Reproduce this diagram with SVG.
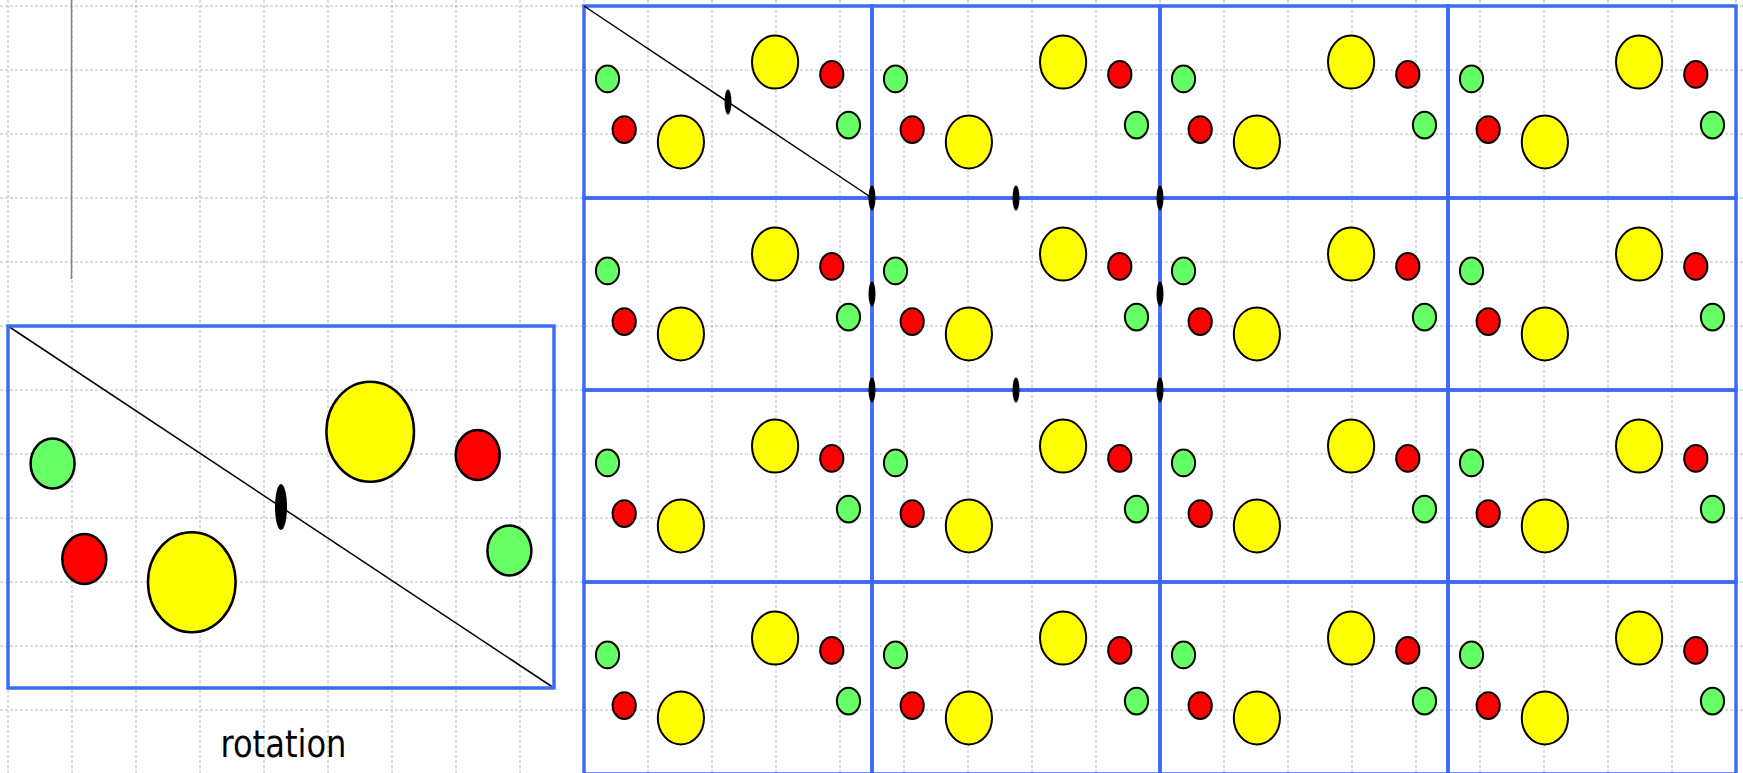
<svg xmlns="http://www.w3.org/2000/svg" xmlns:xlink="http://www.w3.org/1999/xlink" width="1743" height="773" viewBox="0 0 1743 773">
<style>
.grid{stroke:#b8b8b8;stroke-width:1;stroke-dasharray:3 2;fill:none}
.frame{fill:none;stroke:#3d6bf6;stroke-width:3.5}
.g{fill:#66ff66;stroke:#000}
.r{fill:#ff0000;stroke:#000}
.y{fill:#ffff00;stroke:#000}
.axis{fill:#000;stroke:none}
.diag{stroke:#000;stroke-width:1.5;fill:none}
.label{font-family:"DejaVu Sans Condensed","DejaVu Sans",sans-serif;font-stretch:condensed;font-size:37px;fill:#000}
</style>
<defs>
<g id="motif" stroke-width="2">
<ellipse class="g" cx="23.5" cy="72.9" rx="11.6" ry="13.3"/>
<ellipse class="r" cx="40.2" cy="123.6" rx="11.6" ry="13.3"/>
<ellipse class="y" cx="96.9" cy="135.9" rx="23.1" ry="26.5"/>
<ellipse class="y" cx="191.1" cy="56.1" rx="23.1" ry="26.5"/>
<ellipse class="r" cx="247.8" cy="68.4" rx="11.6" ry="13.3"/>
<ellipse class="g" cx="264.5" cy="119.1" rx="11.6" ry="13.3"/>
<rect class="frame" x="0" y="0" width="288" height="192"/>
</g>
</defs>
<rect width="1743" height="773" fill="#fff"/>
<g id="grid">
<path class="grid" d="M8 0V773M72 0V773M136 0V773M200 0V773M264 0V773M328 0V773M392 0V773M456 0V773M520 0V773M584 0V773M648 0V773M712 0V773M776 0V773M840 0V773M904 0V773M968 0V773M1032 0V773M1096 0V773M1160 0V773M1224 0V773M1288 0V773M1352 0V773M1416 0V773M1480 0V773M1544 0V773M1608 0V773M1672 0V773M1736 0V773"/>
<path class="grid" d="M0 6H1743M0 70H1743M0 134H1743M0 198H1743M0 262H1743M0 326H1743M0 390H1743M0 454H1743M0 518H1743M0 582H1743M0 646H1743M0 710H1743"/>
</g>
<g id="axis-line">
<line x1="71.5" y1="0" x2="71.5" y2="279" stroke="#808080" stroke-width="1.5"/>
</g>
<g id="single-cell">
<line class="diag" x1="8" y1="326" x2="554" y2="688"/>
<g stroke-width="2.5">
<ellipse class="g" cx="52.6" cy="463.5" rx="22" ry="25"/>
<ellipse class="r" cx="84.3" cy="559" rx="22" ry="25"/>
<ellipse class="y" cx="191.8" cy="582.3" rx="43.8" ry="50"/>
<ellipse class="y" cx="370.2" cy="431.7" rx="43.8" ry="50"/>
<ellipse class="r" cx="477.7" cy="455" rx="22" ry="25"/>
<ellipse class="g" cx="509.4" cy="550.5" rx="22" ry="25"/>
</g>
<ellipse class="axis" cx="281" cy="507" rx="6" ry="23"/>
<rect class="frame" x="8" y="326" width="546" height="362"/>
</g>
<g id="label-rotation">
<text class="label" x="283.5" y="757" text-anchor="middle" textLength="126" lengthAdjust="spacingAndGlyphs">rotation</text>
</g>
<g id="lattice">
<g id="tile-0-0"><use xlink:href="#motif" href="#motif" x="584" y="6"/></g>
<g id="tile-1-0"><use xlink:href="#motif" href="#motif" x="872" y="6"/></g>
<g id="tile-2-0"><use xlink:href="#motif" href="#motif" x="1160" y="6"/></g>
<g id="tile-3-0"><use xlink:href="#motif" href="#motif" x="1448" y="6"/></g>
<g id="tile-0-1"><use xlink:href="#motif" href="#motif" x="584" y="198"/></g>
<g id="tile-1-1"><use xlink:href="#motif" href="#motif" x="872" y="198"/></g>
<g id="tile-2-1"><use xlink:href="#motif" href="#motif" x="1160" y="198"/></g>
<g id="tile-3-1"><use xlink:href="#motif" href="#motif" x="1448" y="198"/></g>
<g id="tile-0-2"><use xlink:href="#motif" href="#motif" x="584" y="390"/></g>
<g id="tile-1-2"><use xlink:href="#motif" href="#motif" x="872" y="390"/></g>
<g id="tile-2-2"><use xlink:href="#motif" href="#motif" x="1160" y="390"/></g>
<g id="tile-3-2"><use xlink:href="#motif" href="#motif" x="1448" y="390"/></g>
<g id="tile-0-3"><use xlink:href="#motif" href="#motif" x="584" y="582"/></g>
<g id="tile-1-3"><use xlink:href="#motif" href="#motif" x="872" y="582"/></g>
<g id="tile-2-3"><use xlink:href="#motif" href="#motif" x="1160" y="582"/></g>
<g id="tile-3-3"><use xlink:href="#motif" href="#motif" x="1448" y="582"/></g>
</g>
<g id="connectors">
<line class="diag" x1="584" y1="6" x2="872" y2="198"/>
</g>
<g id="rotation-centres">
<ellipse class="axis" cx="728" cy="102" rx="3.5" ry="12.5"/>
<ellipse class="axis" cx="872" cy="198" rx="3.5" ry="12.5"/>
<ellipse class="axis" cx="1016" cy="198" rx="3.5" ry="12.5"/>
<ellipse class="axis" cx="1160" cy="198" rx="3.5" ry="12.5"/>
<ellipse class="axis" cx="872" cy="294" rx="3.5" ry="12.5"/>
<ellipse class="axis" cx="1160" cy="294" rx="3.5" ry="12.5"/>
<ellipse class="axis" cx="872" cy="390" rx="3.5" ry="12.5"/>
<ellipse class="axis" cx="1016" cy="390" rx="3.5" ry="12.5"/>
<ellipse class="axis" cx="1160" cy="390" rx="3.5" ry="12.5"/>
</g>
</svg>
